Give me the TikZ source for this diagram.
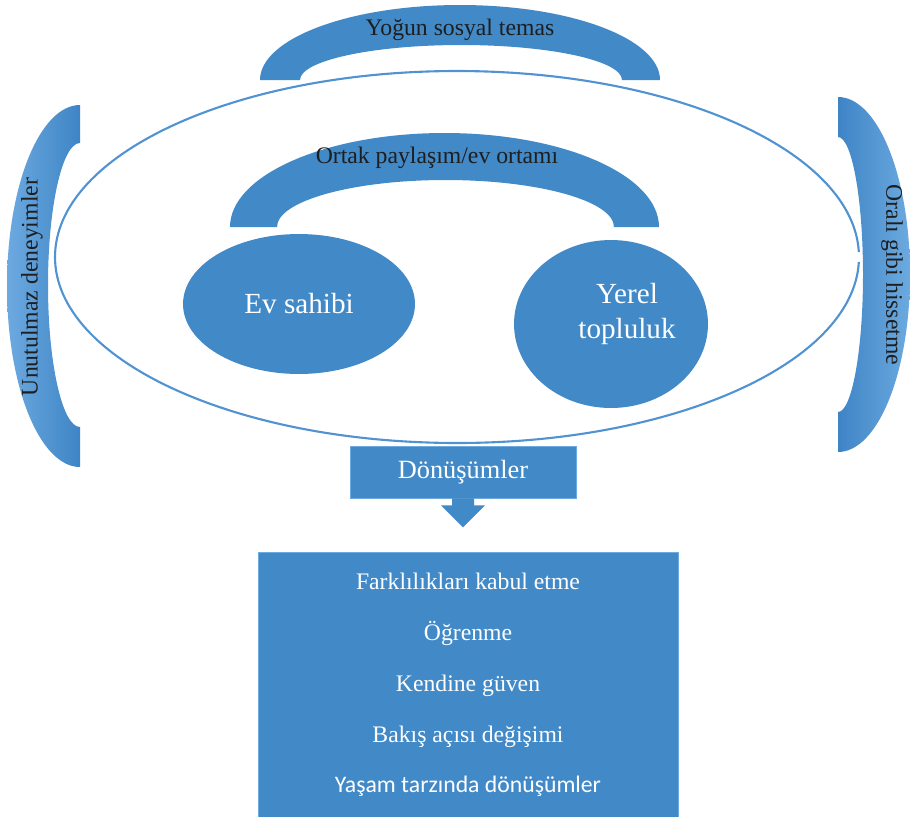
\documentclass[tikz,border=0pt]{standalone}
\usepackage{fontspec}
\setmainfont{Liberation Serif}
\newfontfamily\sansline{Carlito}
\usetikzlibrary{shapes.geometric}
\definecolor{blueA}{RGB}{66,137,200}
\definecolor{blueL}{RGB}{108,170,224}
\definecolor{blueD}{RGB}{62,132,197}
\definecolor{lineB}{RGB}{80,146,210}
\definecolor{darktext}{RGB}{30,30,30}
\tikzset{
  lbl/.style={text=darktext,font=\fontsize{13.5}{16}\selectfont,inner sep=0pt},
  blob/.style={ellipse,fill=blueA,inner sep=0pt},
  box/.style={rectangle,fill=blueA,draw=blueL,line width=0.5pt,inner sep=0pt},
}
\begin{document}
\begin{tikzpicture}[x=0.02cm,y=-0.02cm]
        \useasboundingbox(0,0)rectangle(910,816);

        % archi
        \fill[blueA](260,80)arc[start angle=180,end angle=360,x radius=200,y radius=75]--(622,80)arc[start angle=360,end angle=180,x radius=161,y radius=35]--cycle;
        \fill[blueA](230,227)arc[start angle=180,end angle=360,x radius=214.5,y radius=94]--(614,227)arc[start angle=360,end angle=180,x radius=168.5,y radius=47]--cycle;

        % parentesi ai lati
        \shade[left color=blueL,right color=blueD](80,105)arc[start angle=270,end angle=90,x radius=73,y radius=181]--(80,427)arc[start angle=90,end angle=270,x radius=32,y radius=142]--cycle;
        \shade[left color=blueD,right color=blueL](838,97)arc[start angle=270,end angle=450,x radius=72,y radius=177.5]--(838,412)arc[start angle=90,end angle=-90,x radius=25,y radius=137.5]--cycle;

        % ellisse grande
        \draw[lineB,line width=1.2pt](457,257)++(1.5:402 and 186)arc[start angle=1.5,end angle=358.5,x radius=402,y radius=186];

        \node[lbl](contact)at(460,30){Yoğun sosyal temas};
        \node[lbl](sharing)at(437,158){Ortak paylaşım/ev ortamı};
        \node[lbl,rotate=90](memories)at(32,287){Unutulmaz deneyimler};
        \node[lbl,rotate=-90](belonging)at(892,275){Oralı gibi hissetme};

        \node[blob,minimum width=4.64cm,minimum height=2.8cm,text=white,font=\fontsize{16.6}{20}\selectfont](host)at(299,304){Ev sahibi};
        \node[blob,minimum width=3.88cm,minimum height=3.36cm](local)at(611,324){};
        \node[text=white,font=\fontsize{16.6}{20}\selectfont,align=center,inner sep=0pt](locallbl)at(627,314){Yerel\\topluluk};

        % trasformazioni
        \node[box,minimum width=4.52cm,minimum height=1.04cm,text=white,font=\fontsize{15}{18}\selectfont](trans)at(463,472){Dönüşümler};
        \fill[blueA](trans.south)++(-11,0)--++(0,7)--++(-11,0)--++(22,22)--++(22,-22)--++(-11,0)--++(0,-7)--cycle;

        \node[box,minimum width=8.4cm,minimum height=5.3cm,text=white,align=center,font=\fontsize{13.5}{28.9}\selectfont](outcomes)at(468,685){Farklılıkları kabul etme\\Öğrenme\\Kendine güven\\Bakış açısı değişimi\\{\sansline Yaşam tarzında dönüşümler}};
\end{tikzpicture}
\end{document}
